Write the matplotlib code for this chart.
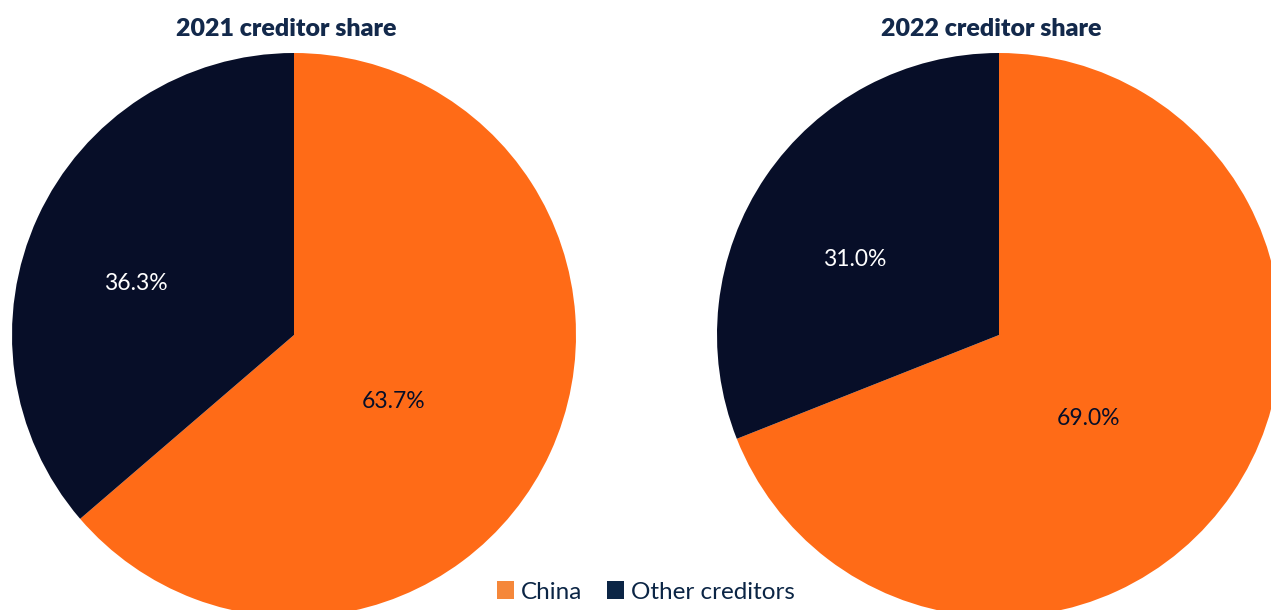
import numpy as np
import matplotlib
matplotlib.use("Agg")
import matplotlib.pyplot as plt
from matplotlib.patches import Patch

# ---- data ----
years = ["2021", "2022"]
creditors = ["China", "Other creditors"]
china_share = [63.7, 69.0]
other_share = [36.3, 31.0]

ORANGE = "#FF6B17"
DARK = "#070E28"
LEG_ORANGE = "#F5873A"
LEG_NAVY = "#0B2545"
TITLE = "#13294B"

plt.rcParams["font.family"] = ["Lato", "DejaVu Sans"]

W, H = 1271, 610
fig = plt.figure(figsize=(W / 100, H / 100), dpi=100)
fig.patch.set_facecolor("white")

# pie centres / radius in pixels
centres = [(294, 335), (999, 335)]
R = 282
label_r = [0.42, 0.585]  # China, Other
off_x, off_y = -8 / R, -17 / R

for i, year in enumerate(years):
    cx, cy = centres[i]
    ax = fig.add_axes([(cx - R) / W, (H - cy - R) / H, 2 * R / W, 2 * R / H])
    vals = [china_share[i], other_share[i]]
    wedges, _ = ax.pie(vals, colors=[ORANGE, DARK], startangle=90,
                       counterclock=False, radius=1)
    for j, (w, v) in enumerate(zip(wedges, vals)):
        mid = np.deg2rad((w.theta1 + w.theta2) / 2)
        ax.text(label_r[j] * np.cos(mid) + off_x, label_r[j] * np.sin(mid) + off_y,
                f"{v:.1f}%", ha="center", va="center", fontsize=16.5,
                color="white" if j == 1 else DARK, zorder=5)
    ax.set_xlim(-1, 1)
    ax.set_ylim(-1, 1)
    ax.set_aspect("equal")
    ax.axis("off")
    fig.text((cx - 8) / W, 1 - 29 / H, f"{year} creditor share", ha="center",
             va="center", fontsize=18, fontweight="heavy", color=TITLE)

handles = [Patch(facecolor=LEG_ORANGE), Patch(facecolor=LEG_NAVY)]
fig.legend(handles, creditors, loc="center", bbox_to_anchor=(646 / W, 1 - 592 / H),
           ncol=2, frameon=False, fontsize=17.5, handlelength=0.7, handleheight=0.7,
           handletextpad=0.3, columnspacing=1.0, labelcolor=LEG_NAVY)

fig.savefig("out.png", dpi=100)
